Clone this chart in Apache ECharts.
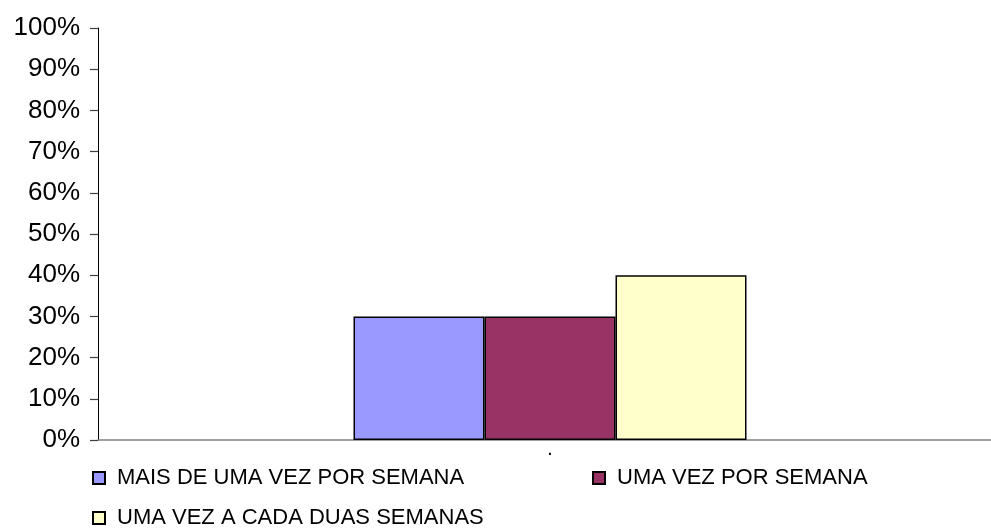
<!DOCTYPE html>
<html>
<head>
<meta charset="utf-8">
<script src="https://cdn.jsdelivr.net/npm/echarts@6/dist/echarts.min.js"></script>
<style>
  html, body { margin: 0; padding: 0; background: #fff; }
  #chart { width: 991px; height: 528px; }
</style>
</head>
<body>
<div id="chart"></div>
<script>
// data
const categories = ['.'];
const seriesNames = ['MAIS DE UMA VEZ POR SEMANA', 'UMA VEZ POR SEMANA', 'UMA VEZ A CADA DUAS SEMANAS'];
const seriesValues = [[30], [30], [40]];
const seriesColors = ['#9999ff', '#993366', '#ffffcc'];

const myChart = echarts.init(document.getElementById('chart'));

// one legend per item so each sits where it does in the picture
const legendPos = [{ left: 92, top: 467 }, { left: 592, top: 467 }, { left: 92, top: 507 }];

const option = {
    animation: false,
    // plot area runs a little past the right edge, like the original
    grid: { left: 98, right: -11, top: 28, bottom: 88, containLabel: false, outerBoundsMode: 'none' },
    legend: seriesNames.map((name, i) => ({
        data: [name],
        left: legendPos[i].left,
        top: legendPos[i].top,
        itemWidth: 12,
        itemHeight: 12,
        itemGap: 0,
        padding: 0,
        icon: 'rect',
        textStyle: { fontFamily: 'Liberation Sans, Arial', fontSize: 22, color: '#000', padding: [0, 0, 0, 7] }
    })),
    xAxis: {
        type: 'category',
        data: categories,
        axisLine: { lineStyle: { color: '#808080', width: 1.5 } },
        axisTick: { show: false },
        axisLabel: { fontFamily: 'Liberation Sans, Arial', fontSize: 14, fontWeight: 'bold', color: '#000', margin: 4 }
    },
    yAxis: {
        type: 'value',
        min: 0,
        max: 100,
        interval: 10,
        axisLine: { show: true, lineStyle: { color: '#000', width: 1 } },
        axisTick: { show: true, length: 8, lineStyle: { color: '#404040', width: 1.2 } },
        splitLine: { show: false },
        axisLabel: {
            formatter: '{value}%',
            fontFamily: 'Liberation Sans, Arial',
            fontSize: 26,
            color: '#000',
            margin: 18
        }
    },
    series: seriesNames.map((name, i) => ({
        name: name,
        type: 'bar',
        data: seriesValues[i],
        barWidth: 131,
        barGap: '0%',
        itemStyle: { color: seriesColors[i], borderColor: '#000', borderWidth: 1.5 }
    }))
};

myChart.setOption(option);
</script>
</body>
</html>
